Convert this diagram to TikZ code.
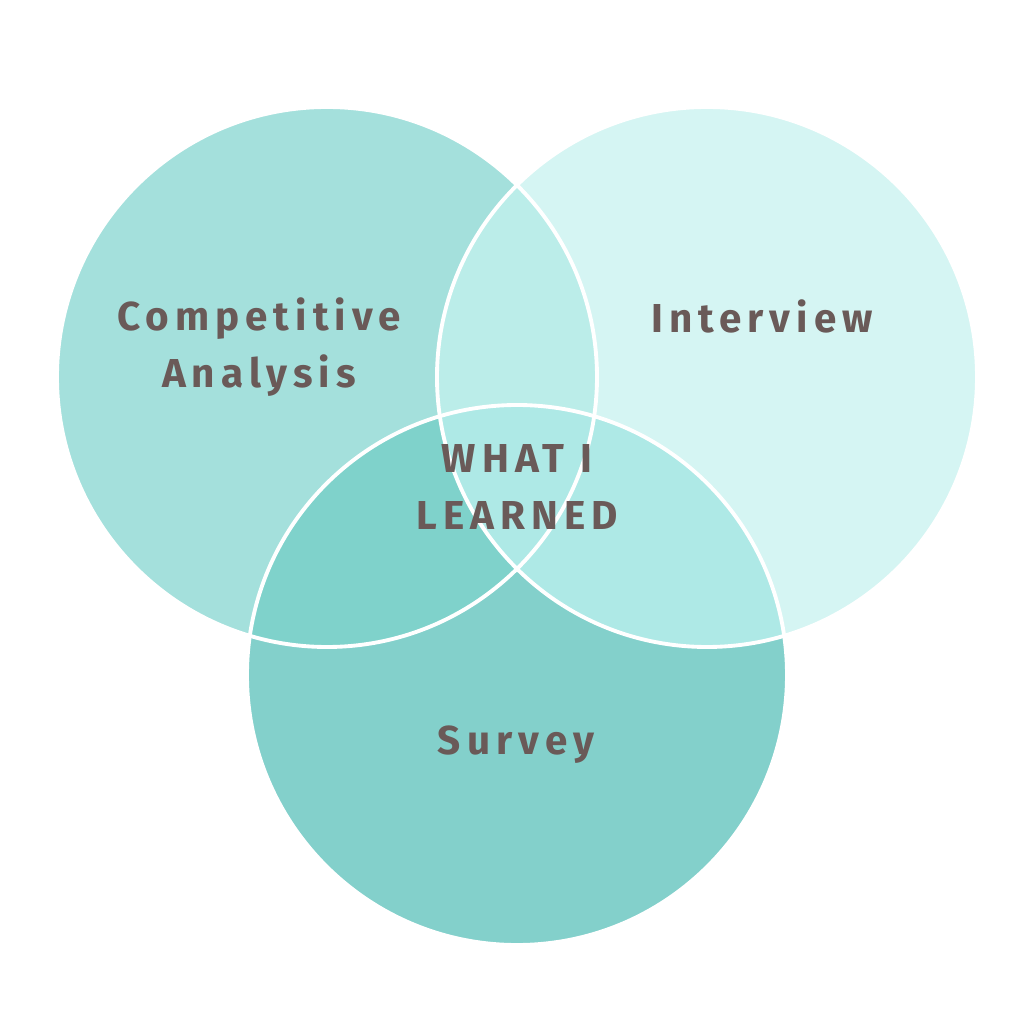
\documentclass[tikz,border=0pt]{standalone}
\usepackage{fontspec}
\setmainfont{Fira Sans}[LetterSpace=15]
\usepackage{tikz}

\definecolor{leftfill}{RGB}{164,224,220}
\definecolor{rightfill}{RGB}{213,245,243}
\definecolor{bottomfill}{RGB}{131,208,203}
\definecolor{lrfill}{RGB}{187,237,233}
\definecolor{lbfill}{RGB}{127,210,203}
\definecolor{rbfill}{RGB}{174,233,230}
\definecolor{lrbfill}{RGB}{178,235,231}
\definecolor{labelcol}{RGB}{106,90,88}

\tikzset{
    rim/.style={draw=white, line width=1.1pt},
    lbl/.style={text=labelcol, align=center, font=\fontsize{11.5}{16}\selectfont\bfseries},
}

\begin{document}
\begin{tikzpicture}
    \useasboundingbox (0,0) rectangle (10.24,10.24);

    % Circle centres
    \coordinate (cl) at (3.27,6.47);
    \coordinate (cr) at (7.07,6.47);
    \coordinate (cb) at (5.17,3.49);

    % Plain discs
    \fill[leftfill] (cl) circle (2.7);
    \fill[rightfill] (cr) circle (2.7);
    \fill[bottomfill] (cb) circle (2.7);

    % Overlaps
    \begin{scope}
        \clip (cl) circle (2.7);
        \fill[lrfill] (cr) circle (2.7);
        \fill[lbfill] (cb) circle (2.7);
        \clip (cr) circle (2.7);
        \fill[lrbfill] (cb) circle (2.7);
    \end{scope}
    \begin{scope}
        \clip (cr) circle (2.7);
        \fill[rbfill] (cb) circle (2.7);
    \end{scope}

    % White rims
    \draw[rim] (cl) circle (2.7);
    \draw[rim] (cr) circle (2.7);
    \draw[rim] (cb) circle (2.7);

    % Labels
    \node[lbl] (comp) at (2.59,6.77) {Competitive\\Analysis};
    \node[lbl] (intv) at (7.62,7.08) {Interview};
    \node[lbl] (learn) at (5.17,5.37) {WHAT I\\LEARNED};
    \node[lbl] (surv) at (5.16,2.79) {Survey};
\end{tikzpicture}
\end{document}
